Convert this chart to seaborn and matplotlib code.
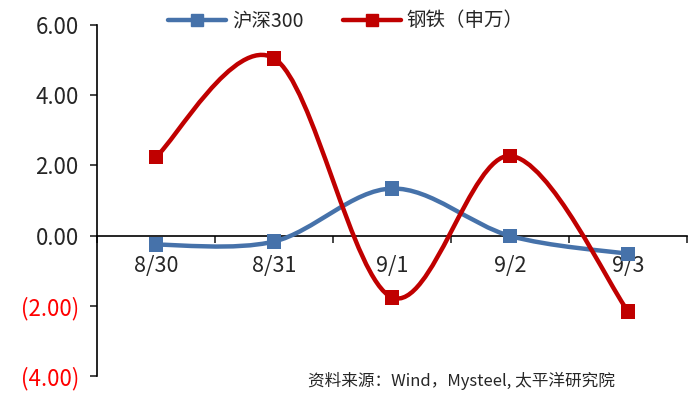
import numpy as np
import pandas as pd
import seaborn as sns
import matplotlib.pyplot as plt
from matplotlib.path import Path
from matplotlib.patches import PathPatch
from matplotlib.lines import Line2D
from matplotlib.ticker import FuncFormatter

dates = ['8/30', '8/31', '9/1', '9/2', '9/3']
hs300 = [-0.26, -0.17, 1.34, -0.01, -0.52]
steel = [2.24, 5.05, -1.76, 2.27, -2.16]

sns.set_style('white')
plt.rcParams['font.family'] = ['Noto Sans CJK SC', 'DejaVu Sans']
plt.rcParams['axes.unicode_minus'] = False

blue = '#4672AA'
red = '#C00000'

df = pd.DataFrame({'date': dates * 2,
                   'x': list(range(len(dates))) * 2,
                   'value': hs300 + steel,
                   'series': ['沪深300'] * len(dates) + ['钢铁（申万）'] * len(dates)})

fig = plt.figure(figsize=(6.92, 3.95), dpi=100)
ax = fig.add_axes([0.140, 0.048, 0.853, 0.889])


## Excel-style smoothed line (bezier through points)
def smooth_path(ys):
    pts = np.column_stack([np.arange(len(ys)), ys]).astype(float)
    verts = [pts[0]]
    codes = [Path.MOVETO]
    n = len(pts)
    for i in range(n - 1):
        p_prev = pts[i - 1] if i > 0 else pts[i]
        p_next2 = pts[i + 2] if i + 2 < n else pts[i + 1]
        c1 = pts[i] + (pts[i + 1] - p_prev) / 6
        c2 = pts[i + 1] - (p_next2 - pts[i]) / 6
        verts += [c1, c2, pts[i + 1]]
        codes += [Path.CURVE4] * 3
    return Path(verts, codes)


for ys, c in [(hs300, blue), (steel, red)]:
    ax.add_patch(PathPatch(smooth_path(ys), facecolor='none', edgecolor=c,
                           lw=3.2, capstyle='round', joinstyle='round', zorder=3))

sns.scatterplot(data=df, x='x', y='value', hue='series', palette=[blue, red],
                marker='s', s=110, edgecolor='none', legend=False, ax=ax, zorder=4)

ax.set_xlim(-0.5, len(dates) - 0.5)
ax.set_ylim(-4, 6)
ax.set_yticks(np.arange(-4, 7, 2))
ax.yaxis.set_major_formatter(FuncFormatter(lambda v, p: f'({abs(v):.2f})' if v < 0 else f'{v:.2f}'))
for lbl, v in zip(ax.get_yticklabels(), np.arange(-4, 7, 2)):
    if v < 0:
        lbl.set_color('#FF0000')
ax.tick_params(axis='y', direction='out', length=5, width=1.2, labelsize=16, pad=8, left=True)

# category axis drawn at zero
ax.spines['bottom'].set_position(('data', 0))
ax.spines['bottom'].set_linewidth(1.2)
ax.spines['left'].set_linewidth(1.2)
ax.spines['bottom'].set_color('black')
ax.spines['left'].set_color('black')
ax.spines['top'].set_visible(False)
ax.spines['right'].set_visible(False)
ax.set_xticks(range(len(dates)))
ax.set_xticklabels(dates)
ax.set_xticks(np.arange(-0.5, len(dates), 1), minor=True)
ax.tick_params(axis='x', which='major', length=0, labelsize=15.5, pad=14)
ax.tick_params(axis='x', which='minor', direction='out', length=5, width=1.2, bottom=True)
ax.set_xlabel('')
ax.set_ylabel('')

handles = [Line2D([], [], color=blue, lw=3.2, marker='s', markersize=8),
           Line2D([], [], color=red, lw=3.2, marker='s', markersize=8)]
fig.legend(handles, ['沪深300', '钢铁（申万）'], loc='upper center', bbox_to_anchor=(0.5, 1.018),
           ncol=2, frameon=False, fontsize=14, handlelength=3.0, handletextpad=0.3,
           columnspacing=2.0)

fig.text(0.445, 0.022, '资料来源：Wind，Mysteel, 太平洋研究院', fontsize=12)

fig.savefig('out.png', dpi=100)
